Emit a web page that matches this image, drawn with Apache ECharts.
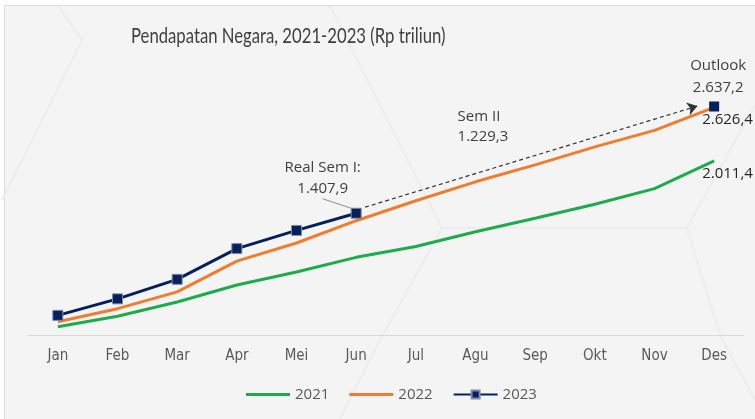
<!DOCTYPE html>
<html>
<head>
<meta charset="utf-8">
<script src="https://cdn.jsdelivr.net/npm/echarts@6/dist/echarts.min.js"></script>
<style>
html,body{margin:0;padding:0;background:#ffffff;}
#main{width:755px;height:419px;}
</style>
</head>
<body>
<div id="main"></div>
<script>
var months=['Jan','Feb','Mar','Apr','Mei','Jun','Jul','Agu','Sep','Okt','Nov','Des'];
var data2021=[101,222,386,582,731,900,1025,1195,1350,1511,1692,2011.4];
var data2022=[158,309,503,857,1065,1322,1552,1770,1965,2172,2362,2626.4];
var data2023=[232,422,647,1001,1210,1407.9,null,null,null,null,null,null];
var outlook=[null,null,null,null,null,null,null,null,null,null,null,2637.2];
var semI=1407.9, semII=1229.3, outlookVal=2637.2;
var titleText='Pendapatan Negara, 2021-2023 (Rp triliun)';

function fmt(v){
	// 2637.2 -> 2.637,2
	var s=v.toFixed(1).split('.');
	return s[0].replace(/\B(?=(\d{3})+(?!\d))/g,'.')+','+s[1];
}

var txt='#595959';
var font='"Open Sans", "Noto Sans", sans-serif';
var narrow='"Liberation Sans Narrow", "DejaVu Sans Condensed", sans-serif';
var hex={stroke:'#ededed',lineWidth:2.5,fill:null};
var lineIcon='path://M0,0 L44,0 L44,3 L0,3 Z';

var myChart=echarts.init(document.getElementById('main'));
var option={
	backgroundColor:'#ffffff',
	animation:false,
	graphic:[
		{type:'rect',z:-10,shape:{x:4.5,y:5.5,width:760,height:420},
			style:{fill:'#f4f4f4',stroke:'#dcdcdc',lineWidth:1}},
		{type:'polyline',z:-9,shape:{points:[[58,6],[82,40],[2,200]]},style:hex},
		{type:'polyline',z:-9,shape:{points:[[330,6],[442,228],[380,340],[340,419]]},style:hex},
		{type:'polyline',z:-9,shape:{points:[[442,228],[687,228]]},style:hex},
		{type:'polyline',z:-9,shape:{points:[[755,105],[687,228],[720,335],[755,400]]},style:hex},
		// title: Calibri-like narrow look
		{type:'text',x:131,y:26,scaleX:0.795,z:10,
			style:{text:titleText,fill:'#404040',fontSize:21,fontFamily:'Lato, "Open Sans", sans-serif',
				textVerticalAlign:'top'}}
	],
	legend:{
		bottom:12,left:241,
		itemWidth:44,itemHeight:10,itemGap:20,
		data:[{name:'2021',icon:lineIcon},{name:'2022',icon:lineIcon},'2023'],
		textStyle:{color:txt,fontSize:15,fontFamily:font}
	},
	grid:{left:28,right:11,top:75,bottom:83.5},
	xAxis:[{
		type:'category',
		data:months,
		axisLine:{lineStyle:{color:'#d9d9d9',width:1}},
		axisTick:{show:false},
		axisLabel:{color:txt,fontSize:15,fontFamily:narrow,margin:13}
	},{
		type:'value',show:false,min:-0.5,max:11.5
	}],
	yAxis:{
		type:'value',min:0,max:3000,show:false,
		splitLine:{show:false}
	},
	series:[{
		name:'2021',type:'line',data:data2021,
		symbol:'none',
		lineStyle:{color:'#1eab4b',width:3},
		itemStyle:{color:'#1eab4b'},
		endLabel:{show:true,formatter:function(p){return fmt(p.value);},
			color:'#262626',fontSize:15,fontFamily:font,offset:[-12,13],distance:0}
	},{
		name:'2022',type:'line',data:data2022,
		symbol:'none',
		lineStyle:{color:'#ef7d2f',width:3},
		itemStyle:{color:'#ef7d2f'},
		endLabel:{show:true,formatter:function(p){return fmt(p.value);},
			color:'#262626',fontSize:15,fontFamily:font,offset:[-12,12],distance:0}
	},{
		name:'2023',type:'line',
		symbol:'rect',symbolSize:10,
		lineStyle:{color:'#06205c',width:3},
		itemStyle:{color:'#06205c',borderColor:'#7f8aa8',borderWidth:1},
		labelLine:{show:true,lineStyle:{color:'#8c8c8c',width:1}},
		labelLayout:function(p){
			if(p.dataIndex!==5) return;
			return {x:p.rect.x-28,y:p.rect.y-30,align:'center',verticalAlign:'middle'};
		},
		label:{show:false},
		data:data2023.map(function(v,i){
			if(i!==5) return v;
			return {value:v,label:{show:true,position:'top',
				formatter:'Real Sem I:\n'+fmt(semI),
				color:'#404040',fontSize:15,lineHeight:21,fontFamily:font,align:'center'}};
		})
	},{
		name:'Outlook',type:'line',data:outlook,
		symbol:'rect',symbolSize:10,
		itemStyle:{color:'#06205c'},
		lineStyle:{width:0},
		label:{show:true,position:'top',distance:3,offset:[4,0],
			formatter:'Outlook\n'+fmt(outlookVal),
			color:'#404040',fontSize:15,lineHeight:22,fontFamily:font,align:'center'}
	},{
		name:'arrow',type:'line',xAxisIndex:1,data:[],
		symbol:'none',silent:true,
		markLine:{
			silent:true,symbol:['none','arrow'],symbolSize:10,
			label:{show:false},
			lineStyle:{color:'#333333',type:[4,3],width:1.2},
			data:[[{coord:[5.15,semI+70]},{coord:[10.72,outlookVal+5]}]]
		},
		markPoint:{
			symbol:'circle',symbolSize:0,silent:true,
			label:{show:true,position:'right',distance:0,formatter:'Sem II\n'+fmt(semII),
				color:'#404040',fontSize:15,lineHeight:20,fontFamily:font,align:'left'},
			data:[{coord:[6.7,2405]}]
		}
	}]
};
myChart.setOption(option);
</script>
</body>
</html>
